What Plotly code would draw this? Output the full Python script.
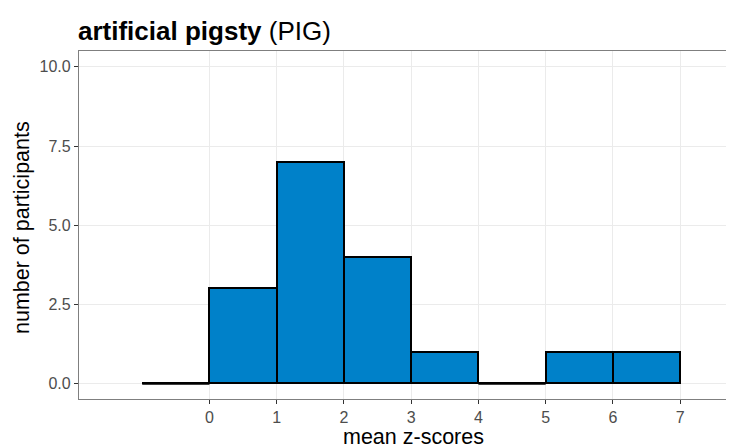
import plotly.graph_objects as go

# histogram of mean z-scores, bin width 1
bin_left = [-1, 0, 1, 2, 3, 4, 5, 6]
counts = [0, 3, 7, 4, 1, 0, 1, 1]
x_ticks = [0, 1, 2, 3, 4, 5, 6, 7]
y_ticks = [0, 2.5, 5, 7.5, 10]
y_labels = ["0.0", "2.5", "5.0", "7.5", "10.0"]

bar_fill = "#0081C9"
font = "Liberation Sans, Arial, sans-serif"

centers = [b + 0.5 for b in bin_left]

fig = go.Figure()
fig.add_trace(go.Bar(
    x=centers, y=counts, width=1,
    marker=dict(color=bar_fill, line=dict(color="black", width=2)),
    hoverinfo="x+y",
))

# empty bins: ggplot still draws their outline along zero
for b, c in zip(bin_left, counts):
    if c == 0:
        fig.add_trace(go.Scatter(
            x=[b, b + 1], y=[c, c], mode="lines",
            line=dict(color="black", width=2.5), hoverinfo="skip",
        ))

# page body has an 8px margin; the panel runs past the right edge of the window,
# as it does in the reference
W, H = 750, 440
L, R, T, B = 71, 14, 43, 49
fig.update_layout(
    width=W, height=H,
    margin=dict(l=L, r=R, t=T, b=B),
    paper_bgcolor="white", plot_bgcolor="white",
    showlegend=False, bargap=0,
    font=dict(family=font, color="black"),
    title=dict(
        text="<b>artificial pigsty</b> (PIG)",
        x=70 / W, xanchor="left", y=1 - 23 / H, yanchor="middle",
        font=dict(size=26, color="black"),
    ),
)
fig.update_xaxes(
    range=[-1.94, 7.95], tickvals=x_ticks, ticktext=[str(t) for t in x_ticks],
    showgrid=True, gridcolor="#EBEBEB", gridwidth=1.2, zeroline=False,
    showline=True, linecolor="#7F7F7F", linewidth=1.2, mirror=True,
    ticks="outside", ticklen=4, tickcolor="#333333", tickwidth=1.2,
    tickfont=dict(size=16, color="#4D4D4D"),
    automargin=False,
)
fig.update_yaxes(
    range=[-0.49, 10.5], tickvals=y_ticks, ticktext=y_labels,
    showgrid=True, gridcolor="#EBEBEB", gridwidth=1.2, zeroline=False,
    showline=True, linecolor="#7F7F7F", linewidth=1.2,
    ticks="outside", ticklen=4, tickcolor="#333333", tickwidth=1.2,
    tickfont=dict(size=16, color="#4D4D4D"),
    automargin=False,
)

# axis titles placed to match the reference (screen px -> paper fractions)
pw, ph = W - L - R, H - T - B
fig.add_annotation(
    text="mean z-scores", xref="paper", yref="paper",
    x=(413 - 79) / pw, y=-(437 - 399) / ph, xanchor="center", yanchor="middle",
    showarrow=False, font=dict(size=21.5, color="black"),
)
fig.add_annotation(
    text="number of participants", xref="paper", yref="paper",
    x=-(79 - 22) / pw, y=(399 - 228) / ph, xanchor="center", yanchor="middle",
    textangle=-90, showarrow=False, font=dict(size=21.5, color="black"),
)

fig.write_html("out.html")
